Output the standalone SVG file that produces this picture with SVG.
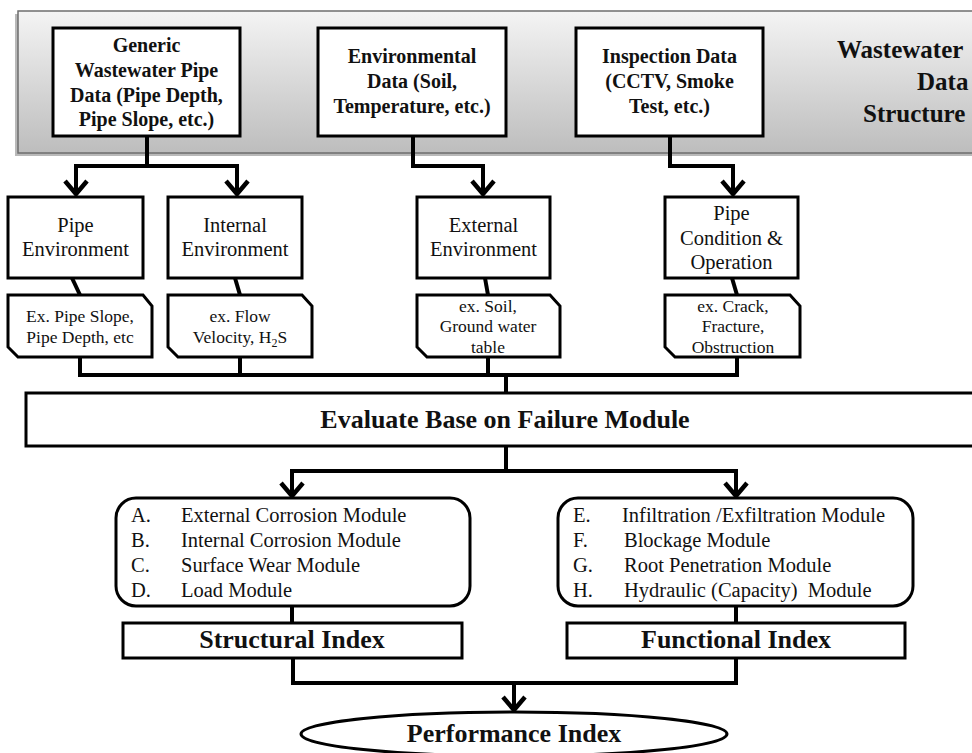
<svg xmlns="http://www.w3.org/2000/svg" width="972" height="753" viewBox="0 0 972 753">
<defs>
<linearGradient id="band" x1="0" y1="0" x2="0" y2="1">
<stop offset="0" stop-color="#f4f4f4"/>
<stop offset="1" stop-color="#bdbdbd"/>
</linearGradient>
<marker id="arr" markerUnits="userSpaceOnUse" markerWidth="40" markerHeight="40" refX="0" refY="0" orient="auto" overflow="visible">
<path d="M-13,-11 L0,0 L-13,11" fill="none" stroke="#000" stroke-width="4.5" stroke-linejoin="miter"/>
</marker>
<style>
.bx{fill:#fff;stroke:#000;stroke-width:3}
.tb{font-family:"Liberation Serif","Times New Roman",serif;font-weight:bold;font-size:20px;fill:#111;text-anchor:middle}
.tr{font-family:"Liberation Serif","Times New Roman",serif;font-size:20.5px;fill:#111;text-anchor:middle}
.tn{font-family:"Liberation Serif","Times New Roman",serif;font-size:17.5px;fill:#111;text-anchor:middle}
.tm{font-family:"Liberation Serif","Times New Roman",serif;font-size:20.5px;fill:#111}
.tbig{font-family:"Liberation Serif","Times New Roman",serif;font-weight:bold;font-size:26px;fill:#111;text-anchor:middle}
.tds{font-family:"Liberation Serif","Times New Roman",serif;font-weight:bold;font-size:25px;fill:#111}
.c{fill:none;stroke:#000;stroke-width:4;stroke-linejoin:miter}
.ca{fill:none;stroke:#000;stroke-width:4;stroke-linejoin:miter;marker-end:url(#arr)}
</style>
</defs>
<rect width="972" height="753" fill="#fff"/>

<g id="data-structure">
<rect x="15" y="14" width="970" height="142" fill="#8a8a8a" opacity="0.6"/>
<rect x="18" y="11" width="970" height="142" fill="url(#band)" stroke="#6e6e6e" stroke-width="1.5"/>
<text class="tds" x="837" y="58">Wastewater</text>
<text class="tds" x="917" y="90">Data</text>
<text class="tds" x="863" y="122">Structure</text>
</g>

<g id="generic-data">
<rect class="bx" x="53" y="28" width="187" height="108"/>
<text class="tb" x="146.5" y="52">Generic</text>
<text class="tb" x="146.5" y="77">Wastewater Pipe</text>
<text class="tb" x="146.5" y="102">Data (Pipe Depth,</text>
<text class="tb" x="146.5" y="126">Pipe Slope, etc.)</text>
</g>
<g id="environmental-data">
<rect class="bx" x="318" y="28" width="188" height="108"/>
<text class="tb" x="412" y="63">Environmental</text>
<text class="tb" x="412" y="88">Data (Soil,</text>
<text class="tb" x="412" y="113">Temperature, etc.)</text>
</g>
<g id="inspection-data">
<rect class="bx" x="576" y="28" width="187" height="108"/>
<text class="tb" x="669.5" y="63">Inspection Data</text>
<text class="tb" x="669.5" y="88">(CCTV, Smoke</text>
<text class="tb" x="669.5" y="113">Test, etc.)</text>
</g>

<g id="connectors">
<path class="ca" d="M147,136 V166 H76 V194"/>
<path class="ca" d="M147,166 H237 V194"/>
<path class="ca" d="M413,136 V166 H483 V194"/>
<path class="ca" d="M670,136 V166 H733 V194"/>
<path class="c" d="M72,278 L80,295"/>
<path class="c" d="M235,278 L240,295"/>
<path class="c" d="M485,278 L488,295"/>
<path class="c" d="M732,278 L737,295"/>
<path class="c" d="M80,357 V375 H737 V357"/>
<path class="c" d="M240,357 V375"/>
<path class="c" d="M488,357 V375"/>
<path class="c" d="M506,375 V393"/>
<path class="c" d="M506,446 V471"/>
<path class="ca" d="M506,471 H292 V496"/>
<path class="ca" d="M506,471 H736 V496"/>
<path class="c" d="M292,606 V623"/>
<path class="c" d="M736,606 V623"/>
<path class="c" d="M293,658 V683 H736 V658"/>
<path class="ca" d="M514,683 V710"/>
</g>

<g id="pipe-environment">
<rect class="bx" x="8" y="197" width="135" height="81"/>
<text class="tr" x="75.5" y="232">Pipe</text>
<text class="tr" x="75.5" y="256">Environment</text>
</g>
<g id="internal-environment">
<rect class="bx" x="168" y="197" width="134" height="81"/>
<text class="tr" x="235" y="232">Internal</text>
<text class="tr" x="235" y="256">Environment</text>
</g>
<g id="external-environment">
<rect class="bx" x="417" y="197" width="133" height="81"/>
<text class="tr" x="483.5" y="232">External</text>
<text class="tr" x="483.5" y="256">Environment</text>
</g>
<g id="pipe-condition">
<rect class="bx" x="665" y="197" width="133" height="81"/>
<text class="tr" x="731.5" y="220">Pipe</text>
<text class="tr" x="731.5" y="245">Condition &amp;</text>
<text class="tr" x="731.5" y="269">Operation</text>
</g>

<g id="note-pipe">
<polygon class="bx" points="8,295 143,295 152,306 152,357 18,357 8,347"/>
<text class="tn" x="80" y="322">Ex. Pipe Slope,</text>
<text class="tn" x="80" y="343">Pipe Depth, etc</text>
</g>
<g id="note-internal">
<polygon class="bx" points="168,295 302,295 312,306 312,357 178,357 168,347"/>
<text class="tn" x="240" y="322">ex. Flow</text>
<text class="tn" x="240" y="343">Velocity, H<tspan font-size="12" dy="4">2</tspan><tspan dy="-4">S</tspan></text>
</g>
<g id="note-external">
<polygon class="bx" points="417,295 550,295 560,306 560,357 427,357 417,347"/>
<text class="tn" x="488" y="312">ex. Soil,</text>
<text class="tn" x="488" y="332">Ground water</text>
<text class="tn" x="488" y="353">table</text>
</g>
<g id="note-condition">
<polygon class="bx" points="665,295 790,295 800,306 800,357 675,357 665,347"/>
<text class="tn" x="733" y="312">ex. Crack,</text>
<text class="tn" x="733" y="332">Fracture,</text>
<text class="tn" x="733" y="353">Obstruction</text>
</g>

<g id="evaluate">
<rect class="bx" x="26" y="393" width="960" height="53"/>
<text class="tbig" x="505" y="428">Evaluate Base on Failure Module</text>
</g>

<g id="structural-modules">
<rect class="bx" x="116" y="498" width="354" height="108" rx="20" ry="20"/>
<text class="tm" x="131" y="522">A.</text><text class="tm" x="181" y="522">External Corrosion Module</text>
<text class="tm" x="131" y="547">B.</text><text class="tm" x="181" y="547">Internal Corrosion Module</text>
<text class="tm" x="131" y="572">C.</text><text class="tm" x="181" y="572">Surface Wear Module</text>
<text class="tm" x="131" y="597">D.</text><text class="tm" x="181" y="597">Load Module</text>
</g>
<g id="functional-modules">
<rect class="bx" x="558" y="498" width="355" height="108" rx="20" ry="20"/>
<text class="tm" x="573" y="522">E.</text><text class="tm" x="622" y="522">Infiltration /Exfiltration Module</text>
<text class="tm" x="573" y="547">F.</text><text class="tm" x="624" y="547">Blockage Module</text>
<text class="tm" x="573" y="572">G.</text><text class="tm" x="624" y="572">Root Penetration Module</text>
<text class="tm" x="573" y="597">H.</text><text class="tm" x="624" y="597">Hydraulic (Capacity)&#160; Module</text>
</g>

<g id="structural-index">
<rect class="bx" x="123" y="623" width="339" height="35"/>
<text class="tbig" x="292" y="648">Structural Index</text>
</g>
<g id="functional-index">
<rect class="bx" x="567" y="623" width="338" height="35"/>
<text class="tbig" x="736" y="648">Functional Index</text>
</g>

<g id="performance-index">
<ellipse cx="514" cy="734" rx="213" ry="22" fill="#fff" stroke="#000" stroke-width="3"/>
<text class="tbig" x="514" y="742">Performance Index</text>
</g>
</svg>
